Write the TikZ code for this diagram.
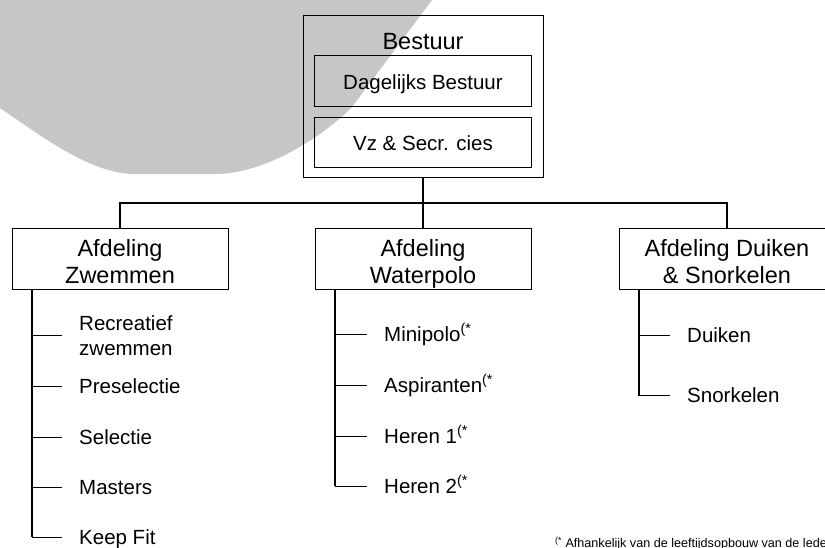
\documentclass[tikz,border=0pt]{standalone}
\usepackage{fontspec}
\setmainfont{Liberation Sans}
\usetikzlibrary{positioning}
\definecolor{wmgray}{RGB}{198,198,198}
\tikzset{
  bigbox/.style={draw, line width=1pt, minimum width=216pt, minimum height=61pt, align=center, inner sep=0pt,
    text height=50pt, text depth=1pt, font=\fontsize{23.5}{27}\selectfont},
  subbox/.style={draw, line width=1pt, minimum width=217pt, minimum height=51pt, align=center, inner sep=0pt,
    text height=20pt, text depth=4pt, font=\fontsize{20.5}{24}\selectfont},
  leaf/.style={anchor=west, inner xsep=17pt, inner ysep=0pt, align=left, text height=19pt, text depth=4.4pt,
    font=\fontsize{20.5}{25}\selectfont},
  trunk/.style={line width=1.8pt},
  tick/.style={line width=1pt},
  link/.style={line width=1.1pt}
}

\begin{document}
\begin{tikzpicture}[x=1pt, y=-1pt]
  \useasboundingbox (0,0) rectangle (825,547);
  \clip (0,0) rectangle (825,547);
  % background shape
  \fill[wmgray] (0,0) -- (432,0) -- (352,107)
    .. controls (330,130) and (270,174) .. (215,174) -- (135,174)
    .. controls (90,174) and (40,135) .. (0,108) -- cycle;

  % board
  \node[draw, line width=1pt, minimum width=240pt, minimum height=162pt] (best) at (423,96) {};
  \node[anchor=base, inner sep=0pt, font=\fontsize{23.5}{27}\selectfont] (bl) at (423,49) {Bestuur};
  \node[subbox] (db) at (423,81) {Dagelijks Bestuur};
  \node[subbox, minimum height=50pt] (vz) at (423,142) {Vz \& Secr. cies};

  % departments
  \coordinate (bus) at (423,203);
  \node[bigbox] (zw) at (120,258.5) {Afdeling\\Zwemmen};
  \node[bigbox] (wp) at (423,258.5) {Afdeling\\Waterpolo};
  \node[bigbox] (dk) at (727,258.5) {Afdeling Duiken\\\& Snorkelen};
  \draw[trunk] (best) -- (bus);
  \draw[link] (bus) -- (wp);
  \draw[link] (zw) |- (bus) -| (dk);

  % Zwemmen
  \coordinate (zt) at (32,289);
  \node[leaf, text height=44pt, text depth=4pt] (rz) at (62,335) {Recreatief\\zwemmen};
  \node[leaf] (ps) at (62,386) {Preselectie};
  \node[leaf] (se) at (62,437) {Selectie};
  \node[leaf] (ms) at (62,487) {Masters};
  \node[leaf] (kf) at (62,537) {Keep Fit};
  \draw[trunk] (zt) -- (zt |- kf.west);
  \foreach \n in {rz,ps,se,ms,kf}
    \draw[tick] (zt |- \n.west) -- (\n.west);

  % Waterpolo
  \coordinate (wt) at (335,289);
  \node[leaf] (mp) at (367,334) {Minipolo\textsuperscript{(*}};
  \node[leaf] (as) at (367,385) {Aspiranten\textsuperscript{(*}};
  \node[leaf] (h1) at (367,436) {Heren 1\textsuperscript{(*}};
  \node[leaf] (h2) at (367,486) {Heren 2\textsuperscript{(*}};
  \draw[trunk] (wt) -- (wt |- h2.west);
  \foreach \n in {mp,as,h1,h2}
    \draw[tick] (wt |- \n.west) -- (\n.west);

  % Duiken & Snorkelen
  \coordinate (dt) at (639,289);
  \node[leaf] (du) at (670,335.5) {Duiken};
  \node[leaf] (sn) at (670,395.5) {Snorkelen};
  \draw[trunk] (dt) -- (dt |- sn.west);
  \foreach \n in {du,sn}
    \draw[tick] (dt |- \n.west) -- (\n.west);

  % footnote
  \node[anchor=base west, inner sep=0pt, font=\fontsize{12.6}{15}\selectfont] (fn) at (555,547.5)
    {\textsuperscript{(*} Afhankelijk van de leeftijdsopbouw van de leden};
\end{tikzpicture}
\end{document}
